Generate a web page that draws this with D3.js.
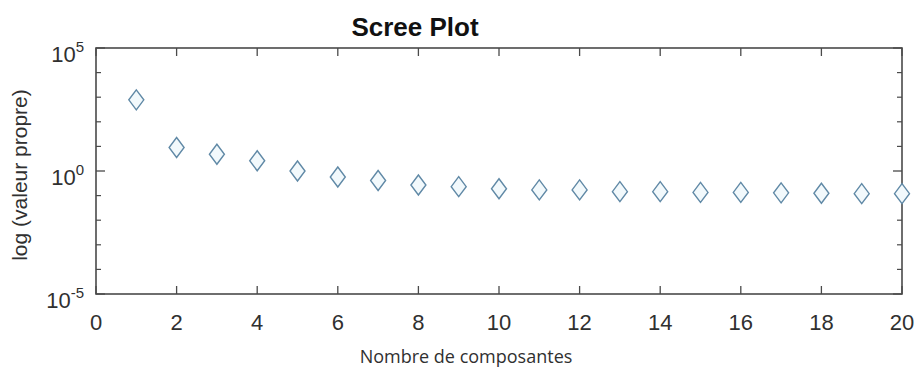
<!DOCTYPE html>
<html>
<head>
<meta charset="utf-8">
<script src="https://cdn.jsdelivr.net/npm/d3@7"></script>
<style>
  html, body { margin: 0; padding: 0; background: #fff; }
  svg { display: block; }
</style>
</head>
<body>
<svg id="chart" width="915" height="367"></svg>
<script>
// ---- data ----
const components = [1,2,3,4,5,6,7,8,9,10,11,12,13,14,15,16,17,18,19,20];
const eigenvalues = [780, 9, 4.8, 2.6, 1.0, 0.57, 0.41, 0.27, 0.23, 0.19, 0.17, 0.17, 0.145, 0.145, 0.135, 0.135, 0.13, 0.125, 0.12, 0.12];
const xTicks = [0,2,4,6,8,10,12,14,16,18,20];
const yMajorTicks = [1e5, 1e0, 1e-5];
const yMajorExp = ["5", "0", "-5"];
const yMinorTicks = [1e4,1e3,1e2,1e1,1e-1,1e-2,1e-3,1e-4];
const titleText = "Scree Plot";
const xLabelText = "Nombre de composantes";
const yLabelText = "log (valeur propre)";

// ---- layout ----
const W = 915, H = 367;
const L = 96, R = 902, T = 48, B = 294;
const axisColor = "#4a4a4a";
const textColor = "#303030";
const markerColor = "#6089a6";

const svg = d3.select("#chart");

const x = d3.scaleLinear().domain([0, 20]).range([L, R]);
const y = d3.scaleLog().domain([1e-5, 1e5]).range([B, T]);

// box
svg.append("rect")
  .attr("x", L).attr("y", T).attr("width", R - L).attr("height", B - T)
  .attr("fill", "none").attr("stroke", axisColor).attr("stroke-width", 1.6);

// x ticks bottom & top (inside)
const gx = svg.append("g");
xTicks.forEach(t => {
  gx.append("line").attr("x1", x(t)).attr("x2", x(t)).attr("y1", B).attr("y2", B - 8)
    .attr("stroke", axisColor).attr("stroke-width", 1.3);
  gx.append("line").attr("x1", x(t)).attr("x2", x(t)).attr("y1", T).attr("y2", T + 8)
    .attr("stroke", axisColor).attr("stroke-width", 1.3);
  gx.append("text").attr("x", x(t)).attr("y", B + 36)
    .attr("text-anchor", "middle")
    .attr("font-family", "Liberation Sans, Arial, sans-serif")
    .attr("font-size", 22).attr("fill", textColor).text(t);
});

// y ticks
const gy = svg.append("g");
yMajorTicks.forEach((t, i) => {
  gy.append("line").attr("x1", L).attr("x2", L + 9).attr("y1", y(t)).attr("y2", y(t))
    .attr("stroke", axisColor).attr("stroke-width", 1.3);
  gy.append("line").attr("x1", R).attr("x2", R - 9).attr("y1", y(t)).attr("y2", y(t))
    .attr("stroke", axisColor).attr("stroke-width", 1.3);
  const txt = gy.append("text").attr("x", 84).attr("y", y(t) + 14)
    .attr("text-anchor", "end")
    .attr("font-family", "Liberation Sans, Arial, sans-serif")
    .attr("font-size", 22).attr("fill", textColor);
  txt.append("tspan").text("10");
  txt.append("tspan").attr("dy", -10).attr("font-size", 15).text(yMajorExp[i]);
});
yMinorTicks.forEach(t => {
  gy.append("line").attr("x1", L).attr("x2", L + 5).attr("y1", y(t)).attr("y2", y(t))
    .attr("stroke", axisColor).attr("stroke-width", 1.2);
  gy.append("line").attr("x1", R).attr("x2", R - 5).attr("y1", y(t)).attr("y2", y(t))
    .attr("stroke", axisColor).attr("stroke-width", 1.2);
});

// markers (diamonds)
const hw = 7.5, hh = 10;
svg.append("g").selectAll("path")
  .data(components.map((c, i) => [c, eigenvalues[i]]))
  .join("path")
  .attr("d", d => {
    const cx = x(d[0]), cy = y(d[1]);
    return `M${cx},${cy - hh}L${cx + hw},${cy}L${cx},${cy + hh}L${cx - hw},${cy}Z`;
  })
  .attr("fill", "#f2f9fc")
  .attr("stroke", markerColor)
  .attr("stroke-width", 1.4);

// title
svg.append("text").attr("x", 415).attr("y", 36)
  .attr("text-anchor", "middle")
  .attr("font-family", "Liberation Sans, Arial, sans-serif")
  .attr("font-weight", "bold").attr("font-size", 26).attr("fill", "#111")
  .text(titleText);

// x label
svg.append("text").attr("x", 466).attr("y", 363)
  .attr("text-anchor", "middle")
  .attr("font-family", "Open Sans, sans-serif")
  .attr("font-size", 18).attr("fill", textColor)
  .text(xLabelText);

// y label
svg.append("text").attr("transform", "translate(27,175) rotate(-90)")
  .attr("text-anchor", "middle")
  .attr("font-family", "Liberation Sans, Arial, sans-serif")
  .attr("font-size", 21).attr("fill", textColor)
  .text(yLabelText);
</script>
</body>
</html>
